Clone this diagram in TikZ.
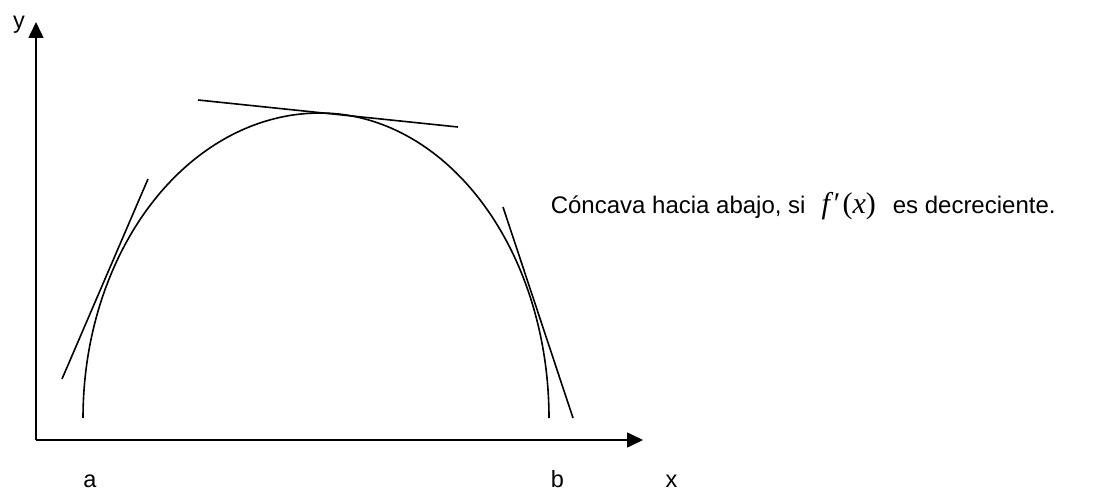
\documentclass[tikz,border=0pt]{standalone}
\usepackage{fontspec}
\setmainfont{Liberation Sans}
\newfontfamily\tnr{Liberation Serif}
\usetikzlibrary{arrows.meta}
\begin{document}
\begin{tikzpicture}[x=1pt,y=-1pt,line width=1.6pt,
  axis/.style={-{Triangle[length=16pt,width=15pt]}},
  lbl/.style={font=\fontsize{23.5}{27}\selectfont,inner sep=0pt,anchor=base},
  tangent/.style={line width=1.6pt}]
\useasboundingbox (0,0) rectangle (1094,492);
% axes
\coordinate (O) at (36,440);
\coordinate (ytip) at (36,22);
\coordinate (xtip) at (643,440);
\draw[axis] (O) -- (ytip);
\draw[axis] (O) -- (xtip);
% curve (concave down)
\draw[line width=1.6pt] plot[domain=180:270,samples=80] ({320+237*cos(\x)},{418+305*sin(\x)})
  -- plot[domain=270:360,samples=80] ({320+229*cos(\x)},{418+305*sin(\x)});
% tangent lines
\coordinate (t1a) at (62,379);  \coordinate (t1b) at (148,179);
\coordinate (t2a) at (198,100); \coordinate (t2b) at (458,127);
\coordinate (t3a) at (503,207); \coordinate (t3b) at (573,418);
\draw[tangent] (t1a) -- (t1b);
\draw[tangent] (t2a) -- (t2b);
\draw[tangent] (t3a) -- (t3b);
% labels
\node[lbl] (ly) at (19,29) {y};
\node[lbl] (la) at (90,487) {a};
\node[lbl] (lb) at (557.5,487) {b};
\node[lbl] (lx) at (671.5,487) {x};
\node[inner sep=0pt,anchor=base west,font=\fontsize{24}{28}\selectfont] (txt) at (550,213)
  {Cóncava hacia abajo, si\hspace{16pt}{\tnr\fontsize{30}{34}\selectfont\itshape f\hspace{4pt}\upshape′\hspace{2pt}(\itshape x\upshape)}\hspace{17pt}es decreciente.};
\end{tikzpicture}
\end{document}
